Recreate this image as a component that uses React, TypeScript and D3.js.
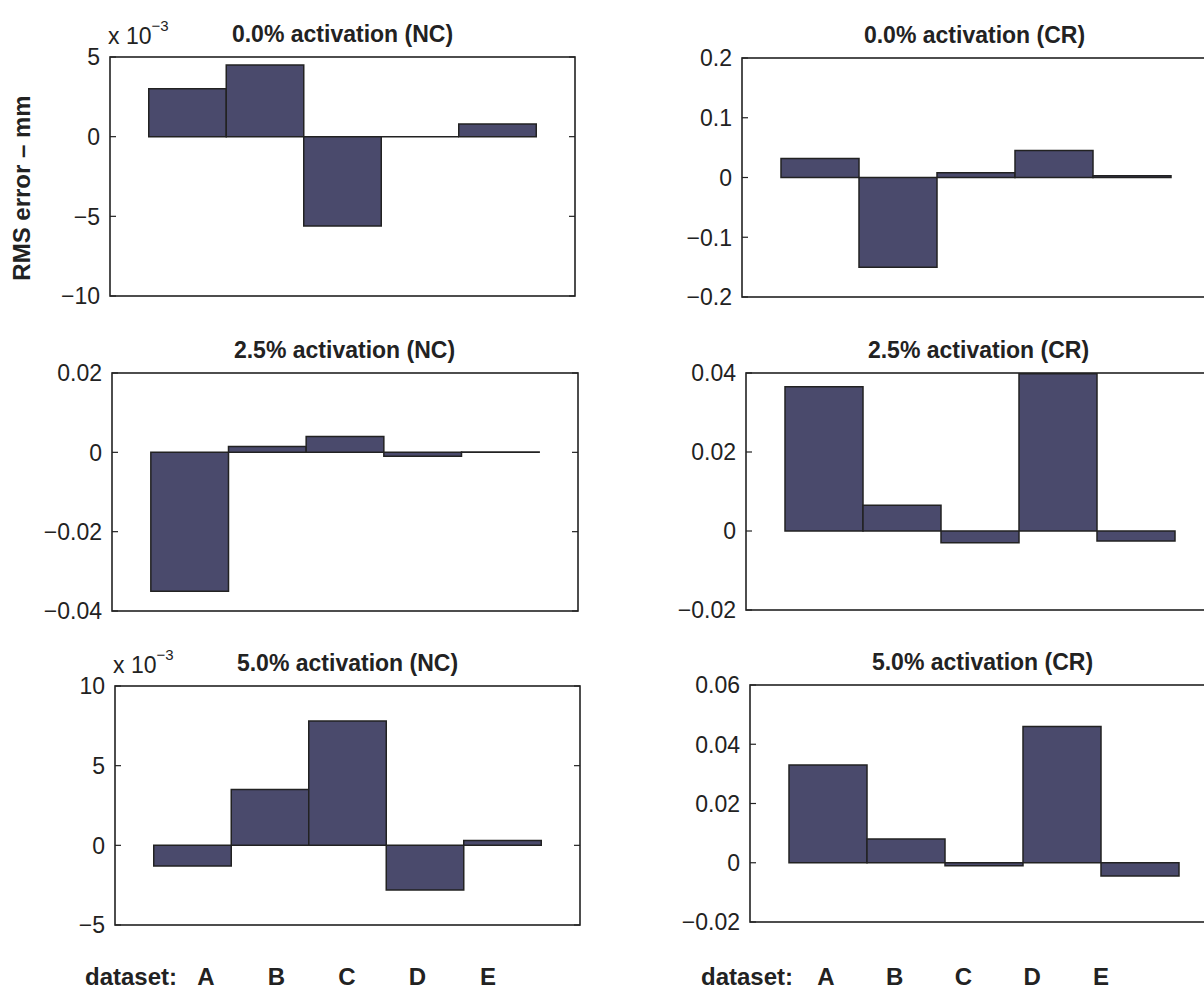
import * as d3 from 'd3'

const datasets = ['A', 'B', 'C', 'D', 'E']

// RMS error (mm) per dataset
const nc00 = [0.003, 0.0045, -0.0056, 0.0, 0.0008]
const nc25 = [-0.035, 0.0015, 0.004, -0.001, 0.0001]
const nc50 = [-0.0013, 0.0035, 0.0078, -0.0028, 0.0003]
const cr00 = [0.032, -0.15, 0.008, 0.045, 0.003]
const cr25 = [0.0365, 0.0065, -0.003, 0.0398, -0.0025]
const cr50 = [0.033, 0.008, -0.001, 0.046, -0.0045]

// y ticks per panel
const ticksNc00 = [-0.01, -0.005, 0, 0.005]
const ticksNc25 = [-0.04, -0.02, 0, 0.02]
const ticksNc50 = [-0.005, 0, 0.005, 0.01]
const ticksCr00 = [-0.2, -0.1, 0, 0.1, 0.2]
const ticksCr25 = [-0.02, 0, 0.02, 0.04]
const ticksCr50 = [-0.02, 0, 0.02, 0.04, 0.06]

const W = 1204
const H = 995
const FONT = '"Liberation Sans", Arial, Helvetica, sans-serif'
const BAR_FILL = '#4a4a6c'
const INK = '#222'

interface Panel {
  title: string
  values: number[]
  ticks: number[]
  exp?: boolean
  left: number
  top: number
  width: number
  height: number
}

// right column is cut off by the page edge, like the scan
const panels: Panel[] = [
  { title: '0.0% activation (NC)', values: nc00, ticks: ticksNc00, exp: true, left: 110, top: 57, width: 465, height: 239 },
  { title: '2.5% activation (NC)', values: nc25, ticks: ticksNc25, left: 112, top: 373, width: 466, height: 238 },
  { title: '5.0% activation (NC)', values: nc50, ticks: ticksNc50, exp: true, left: 115, top: 686, width: 465, height: 239 },
  { title: '0.0% activation (CR)', values: cr00, ticks: ticksCr00, left: 742, top: 58, width: 468, height: 239 },
  { title: '2.5% activation (CR)', values: cr25, ticks: ticksCr25, left: 746, top: 373, width: 468, height: 237 },
  { title: '5.0% activation (CR)', values: cr50, ticks: ticksCr50, left: 750, top: 685, width: 468, height: 237 },
]

function fmt(v: number, exp?: boolean) {
  const n = exp ? Math.round(v * 1000) : +v.toFixed(3)
  if (n === 0) return '0'
  return String(n).replace('-', '\u2212')
}

function BarPanel({ p }: { p: Panel }) {
  const x = d3.scaleLinear().domain([0, 6]).range([p.left, p.left + p.width])
  const y = d3
    .scaleLinear()
    .domain(d3.extent(p.ticks) as [number, number])
    .range([p.top + p.height, p.top])
  const cx = p.left + 465 / 2

  // bars as closed paths so a zero-height bar still shows its outline
  const barPath = (v: number, i: number) => {
    const path = d3.path()
    path.moveTo(x(i + 0.5), y(0))
    path.lineTo(x(i + 1.5), y(0))
    path.lineTo(x(i + 1.5), y(v))
    path.lineTo(x(i + 0.5), y(v))
    path.closePath()
    return path.toString()
  }

  return (
    <g>
      {p.values.map((v, i) => (
        <path key={i} d={barPath(v, i)} fill={BAR_FILL} stroke={INK} strokeWidth={1.5} />
      ))}
      {/* box */}
      <rect
        x={p.left}
        y={p.top}
        width={p.width}
        height={p.height}
        fill="none"
        stroke={INK}
        strokeWidth={1.6}
      />
      {/* ticks inside, both sides */}
      {p.ticks.map(t => (
        <g key={t}>
          <line x1={p.left} x2={p.left + 6} y1={y(t)} y2={y(t)} stroke={INK} strokeWidth={1.2} />
          <line x1={p.left + p.width - 6} x2={p.left + p.width} y1={y(t)} y2={y(t)} stroke={INK} strokeWidth={1.2} />
          <text
            x={p.left - 10}
            y={y(t)}
            dy="0.36em"
            textAnchor="end"
            fontSize={23}
            fill={INK}
          >
            {fmt(t, p.exp)}
          </text>
        </g>
      ))}
      {p.exp && (
        <text x={p.left - 2} y={p.top - 13} fontSize={23} fill={INK}>
          x 10
          <tspan fontSize={15} dy={-13}>{'\u22123'}</tspan>
        </text>
      )}
      <text
        x={cx}
        y={p.top - 15}
        textAnchor="middle"
        fontSize={23}
        fontWeight="bold"
        fill={INK}
      >
        {p.title}
      </text>
    </g>
  )
}

export default function App() {
  const labelLeft = d3.scalePoint<string>().domain(datasets).range([206, 488])
  const labelRight = d3.scalePoint<string>().domain(datasets).range([826, 1101])
  const labelY = 985

  return (
    <svg
      width={W}
      height={H}
      style={{ position: 'absolute', left: 0, top: 0, background: '#fff', fontFamily: FONT }}
    >
      <rect x={0} y={0} width={W} height={H} fill="#fff" />
      {panels.map(p => (
        <BarPanel key={p.title} p={p} />
      ))}
      <text
        transform="translate(30,188) rotate(-90)"
        textAnchor="middle"
        fontSize={24}
        fontWeight="bold"
        fill={INK}
      >
        RMS error – mm
      </text>
      {[
        { scale: labelLeft, end: 177 },
        { scale: labelRight, end: 793 },
      ].map((col, ci) => (
        <g key={ci} fontSize={24} fontWeight="bold" fill={INK}>
          <text x={col.end} y={labelY} textAnchor="end">dataset:</text>
          {datasets.map(d => (
            <text key={d} x={col.scale(d)} y={labelY} textAnchor="middle">
              {d}
            </text>
          ))}
        </g>
      ))}
    </svg>
  )
}
